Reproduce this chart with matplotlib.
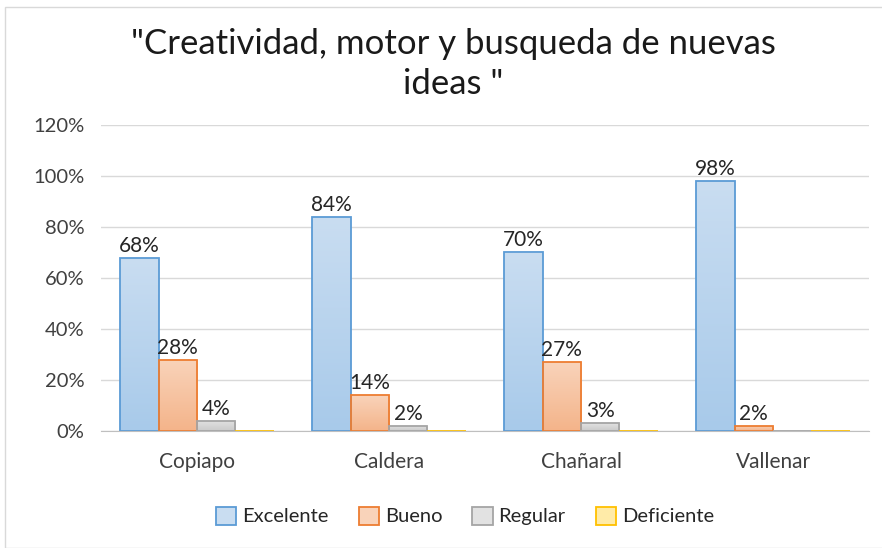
import matplotlib.pyplot as plt
import numpy as np
from matplotlib.patches import Rectangle
from matplotlib.colors import LinearSegmentedColormap

plt.rcParams['font.family'] = ['Lato', 'DejaVu Sans']

# data (percent)
cities = ['Copiapo', 'Caldera', 'Chañaral', 'Vallenar']
series = ['Excelente', 'Bueno', 'Regular', 'Deficiente']
excelente = [68, 84, 70, 98]
bueno = [28, 14, 27, 2]
regular = [4, 2, 3, 0]
deficiente = [0, 0, 0, 0]
values = [excelente, bueno, regular, deficiente]

# (top fill, bottom fill, edge) per series
colors = [('#C9DDF1', '#A8CAEA', '#5B9BD5'),
          ('#F9D3BA', '#F4B48A', '#ED7D31'),
          ('#E2E2E2', '#CACACA', '#A5A5A5'),
          ('#FFEBA8', '#FFDB70', '#FFC000')]

fig = plt.figure(figsize=(8.82, 5.48), dpi=100)
fig.patches.append(Rectangle((5/882, 0.0), 1.0, 1 - 7/548, transform=fig.transFigure,
                             fill=False, edgecolor='#D9D9D9', lw=1))
ax = fig.add_axes([101/882, 117/548, 768/882, 306/548])

x = np.arange(len(cities))
w = 0.2
for i, (name, vals) in enumerate(zip(series, values)):
    top, bot, edge = colors[i]
    cmap = LinearSegmentedColormap.from_list(name, [bot, top])
    pos = x + (i - 1.5) * w
    bars = ax.bar(pos, vals, w, facecolor='none', edgecolor=edge, lw=1.3,
                  label=name, zorder=3)
    for b in bars:
        h = b.get_height()
        if h <= 0:
            continue
        grad = np.linspace(0, 1, 100).reshape(-1, 1)
        im = ax.imshow(grad, cmap=cmap, origin='lower', aspect='auto',
                       extent=[b.get_x(), b.get_x() + b.get_width(), 0, h], zorder=2)
        im.set_clip_path(b)
        ax.text(b.get_x() + b.get_width() / 2, h + 0.8, f'{h:.0f}%', ha='center',
                va='bottom', fontsize=15, color='#262626')

# legend handles with flat fills
handles = [Rectangle((0, 0), 1, 1, facecolor=c[0], edgecolor=c[2], lw=1.3) for c in colors]

ax.set_xlim(-0.5, 3.5)
ax.set_ylim(0, 120)
ax.set_yticks(range(0, 121, 20))
ax.set_yticklabels([f'{v}%' for v in range(0, 121, 20)])
ax.set_xticks(x)
ax.set_xticklabels(cities)
ax.tick_params(axis='y', length=0, labelsize=14.5, colors='#404040', pad=12)
ax.tick_params(axis='x', length=0, labelsize=15, colors='#404040', pad=15)
ax.yaxis.grid(True, color='#D9D9D9', lw=1, zorder=0)
ax.set_axisbelow(True)
for s in ['top', 'right', 'left']:
    ax.spines[s].set_visible(False)
ax.spines['bottom'].set_color('#BFBFBF')
ax.spines['bottom'].set_zorder(4)

fig.text(453/882, 1 - 64/548, '"Creatividad, motor y busqueda de nuevas\nideas "',
         ha='center', va='center', fontsize=25, color='#1a1a1a', linespacing=1.3)

fig.legend(handles, series, loc='center', bbox_to_anchor=(465/882, 1 - 516/548),
           ncol=4, frameon=False, fontsize=14.5, handlelength=1.0, handleheight=1.0,
           handletextpad=0.3, columnspacing=1.5)
for t in fig.legends[0].get_texts():
    t.set_color('#262626')

fig.savefig('out.png', dpi=100)
